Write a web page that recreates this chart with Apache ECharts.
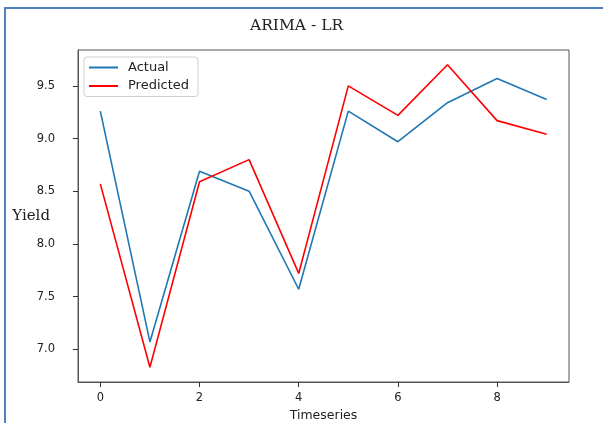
<!DOCTYPE html>
<html>
<head>
<meta charset="utf-8">
<script src="https://cdn.jsdelivr.net/npm/echarts@6/dist/echarts.min.js"></script>
<style>
html,body{margin:0;padding:0;background:#fff;}
#chart{width:603px;height:423px;}
</style>
</head>
<body>
<div id="chart"></div>
<script>
const timesteps = [0,1,2,3,4,5,6,7,8,9];
const actual = [9.26,7.07,8.69,8.50,7.57,9.26,8.97,9.34,9.57,9.37];
const predicted = [8.57,6.83,8.59,8.80,7.72,9.50,9.22,9.70,9.17,9.04];
const xTicks = [0,2,4,6,8];
const yTicks = [7.0,7.5,8.0,8.5,9.0,9.5];

const chart = echarts.init(document.getElementById('chart'), null, {renderer:'canvas'});
const axisCol = '#555';
chart.setOption({
  animation:false,
  backgroundColor:'#fff',
  title:{
    text:'ARIMA - LR',
    left:245, top:13,
    textStyle:{fontFamily:'DejaVu Serif', fontSize:15.5, fontWeight:'normal', color:'#222'}
  },
  graphic:[
    {type:'line', shape:{x1:5,y1:8,x2:603,y2:8}, style:{stroke:'#4f81bd', lineWidth:2}},
    {type:'line', shape:{x1:5,y1:7,x2:5,y2:423}, style:{stroke:'#4f81bd', lineWidth:2}}
  ],
  legend:{
    orient:'vertical', left:84, top:57,
    data:['Actual','Predicted'],
    icon:'rect', itemWidth:29, itemHeight:2, itemGap:5.5,
    borderColor:'#d0d0d0', borderWidth:1, borderRadius:3,
    padding:[4,9,4,5],
    textStyle:{fontFamily:'DejaVu Sans', fontSize:13, color:'#222', padding:[0,0,0,5]}
  },
  grid:{left:78, right:34, top:50, bottom:41, show:true, borderColor:axisCol, borderWidth:1,
        backgroundColor:'transparent', containLabel:false, outerBoundsMode:'none'},
  xAxis:{
    type:'value', min:-0.45, max:9.45, splitNumber:5,
    name:'Timeseries', nameLocation:'middle', nameGap:25,
    nameTextStyle:{fontFamily:'DejaVu Sans', fontSize:12.5, color:'#222'},
    axisLine:{show:true, onZero:false, lineStyle:{color:axisCol, width:1}},
    axisTick:{show:true, inside:false, length:5, lineStyle:{color:'#333', width:1}},
    axisLabel:{showMinLabel:false, showMaxLabel:false, margin:10,
      fontFamily:'DejaVu Sans', fontSize:11.5, color:'#222',
      formatter:v=>(xTicks.indexOf(v)>=0 ? String(v) : '')},
    splitLine:{show:false}
  },
  yAxis:{
    type:'value', min:6.69, max:9.84, splitNumber:5,
    name:'Yield', nameLocation:'middle', nameRotate:0, nameGap:28, nameMoveOverlap:false,
    nameTextStyle:{fontFamily:'DejaVu Serif', fontSize:15, color:'#222'},
    axisLine:{show:true, onZero:false, lineStyle:{color:axisCol, width:1}},
    axisTick:{show:true, inside:false, length:5, lineStyle:{color:'#333', width:1}},
    axisLabel:{showMinLabel:false, showMaxLabel:false, margin:23,
      fontFamily:'DejaVu Sans', fontSize:11.5, color:'#222',
      formatter:v=>(yTicks.some(t=>Math.abs(t-v)<1e-6) ? v.toFixed(1) : '')},
    splitLine:{show:false}
  },
  series:[
    {name:'Actual', type:'line', data:timesteps.map((t,i)=>[t,actual[i]]), showSymbol:false,
     lineStyle:{color:'#1f77b4', width:1.6}, itemStyle:{color:'#1f77b4'}},
    {name:'Predicted', type:'line', data:timesteps.map((t,i)=>[t,predicted[i]]), showSymbol:false,
     lineStyle:{color:'#ff0000', width:1.6}, itemStyle:{color:'#ff0000'}}
  ]
});
</script>
</body>
</html>
